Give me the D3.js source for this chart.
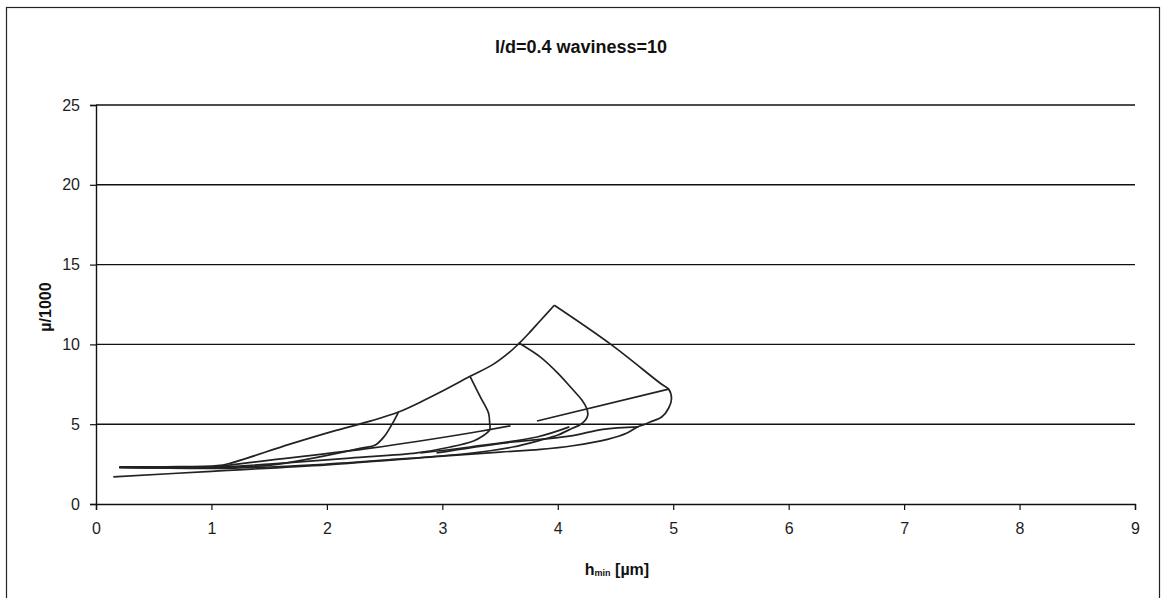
<!DOCTYPE html>
<html>
<head>
<meta charset="utf-8">
<script src="https://cdn.jsdelivr.net/npm/d3@7"></script>
<style>
  html, body { margin: 0; padding: 0; background: #fff; }
  svg { display: block; font-family: Arial, "Liberation Sans", sans-serif; }
</style>
</head>
<body>
<svg id="chart" width="1162" height="598"></svg>
<script>
// Friction parameter against minimum film thickness, l/d = 0.4, waviness 10
const chartTitle = "l/d=0.4 waviness=10";
const xTicks = [0, 1, 2, 3, 4, 5, 6, 7, 8, 9];
const yTicks = [0, 5, 10, 15, 20, 25];

// each curve is a list of [h_min (µm), µ/1000]
const curveEnvelope = [[0.21,2.32],[0.6,2.33],[1.05,2.4],[1.16,2.55],[1.68,3.75],[2.05,4.55],[2.39,5.22],[2.62,5.76],[2.8,6.35],[2.98,7.0],[3.24,8.0],[3.44,8.75],[3.58,9.5],[3.65,9.96],[3.75,10.7],[3.85,11.5],[3.97,12.45]];
const curveOuter = [[3.97,12.45],[4.46,10.0],[4.9,7.5],[4.96,7.2],[4.985,6.6],[4.96,6.0],[4.9,5.45],[4.8,5.14],[4.74,4.95],[4.69,4.83],[4.6,4.45],[4.43,4.05],[4.13,3.65],[3.85,3.42],[3.5,3.25],[3.0,3.0],[2.0,2.45],[1.0,2.05],[0.15,1.7]];
const curveTail = [[3.82,5.2],[4.96,7.2]];
const curveN3 = [[3.66,10.1],[3.85,9.2],[4.0,8.2],[4.11,7.33],[4.21,6.5],[4.25,6.0],[4.26,5.58],[4.24,5.26],[4.19,4.95],[4.13,4.76],[4.0,4.32],[3.85,4.0],[3.61,3.57],[3.2,3.15],[2.5,2.75],[2.0,2.5],[1.2,2.25],[0.2,2.3]];
const curveN2 = [[3.24,8.0],[3.33,6.7],[3.4,5.7],[3.41,5.07],[3.41,4.64],[3.35,4.26],[3.27,3.95],[3.07,3.57],[2.78,3.2],[2.2,2.88],[1.5,2.5],[1.0,2.3],[0.2,2.3]];
const curveN1 = [[2.62,5.76],[2.57,5.07],[2.5,4.26],[2.42,3.7],[2.3,3.5],[1.51,2.43],[1.0,2.3],[0.2,2.3]];
const curveL1 = [[1.0,2.3],[1.51,2.75],[2.38,3.5],[3.24,4.45],[3.59,4.9]];
const curveL2 = [[2.81,3.2],[3.24,3.57],[3.82,4.2],[4.1,4.83]];
const curveL3 = [[2.95,3.2],[3.53,3.82],[4.1,4.25],[4.39,4.68],[4.7,4.83]];

const curves = [curveEnvelope, curveOuter, curveTail, curveN3, curveN2, curveN1, curveL1, curveL2, curveL3];

const svg = d3.select("#chart");
const plot = { left: 96, right: 1135, top: 105, bottom: 504 };

// outer frame
svg.append("rect")
  .attr("x", 6.5).attr("y", 7.5)
  .attr("width", 1153).attr("height", 600)
  .attr("fill", "none").attr("stroke", "#222").attr("stroke-width", 1.2);

const x = d3.scaleLinear().domain([0, 9]).range([plot.left, plot.right]);
const y = d3.scaleLinear().domain([0, 25]).range([plot.bottom, plot.top]);

// horizontal gridlines
svg.append("g")
  .selectAll("line")
  .data(yTicks.filter(d => d > 0))
  .join("line")
  .attr("x1", plot.left).attr("x2", plot.right)
  .attr("y1", d => y(d)).attr("y2", d => y(d))
  .attr("stroke", "#111").attr("stroke-width", 1.4);

// axes
const xAxis = d3.axisBottom(x).tickValues(xTicks).tickSize(6).tickPadding(13);
const yAxis = d3.axisLeft(y).tickValues(yTicks).tickSize(6).tickPadding(10);

const gx = svg.append("g").attr("transform", `translate(0,${plot.bottom})`).call(xAxis);
const gy = svg.append("g").attr("transform", `translate(${plot.left},0)`).call(yAxis);
[gx, gy].forEach(g => {
  g.select(".domain").attr("stroke", "#111").attr("stroke-width", 1.4);
  g.selectAll(".tick line").attr("stroke", "#111").attr("stroke-width", 1.2);
  g.selectAll(".tick text").attr("fill", "#1e1e1e").style("font-size", "16px")
    .style("font-family", "Arial, 'Liberation Sans', sans-serif");
});

// data curves, smoothed through the points
const line = d3.line()
  .x(d => x(d[0])).y(d => y(d[1]))
  .curve(d3.curveCatmullRom.alpha(0.5));
svg.append("g")
  .selectAll("path")
  .data(curves)
  .join("path")
  .attr("d", line)
  .attr("fill", "none")
  .attr("stroke", "#222")
  .attr("stroke-width", 1.7)
  .attr("stroke-linejoin", "round");

// title
svg.append("text")
  .attr("x", 581).attr("y", 53)
  .attr("text-anchor", "middle")
  .style("font-size", "18px").style("font-weight", "bold")
  .attr("fill", "#111")
  .text(chartTitle);

// x axis title with subscript
const xt = svg.append("text")
  .attr("x", 617).attr("y", 575)
  .attr("text-anchor", "middle")
  .style("font-size", "16px").style("font-weight", "bold")
  .attr("fill", "#111");
xt.append("tspan").text("h");
xt.append("tspan").style("font-size", "9px").attr("dy", 1).text("min");
xt.append("tspan").attr("dy", -1).text(" [µm]");

// y axis title
svg.append("text")
  .attr("transform", "translate(51,307) rotate(-90)")
  .attr("text-anchor", "middle")
  .style("font-size", "16px").style("font-weight", "bold")
  .attr("fill", "#111")
  .text("µ/1000");
</script>
</body>
</html>
